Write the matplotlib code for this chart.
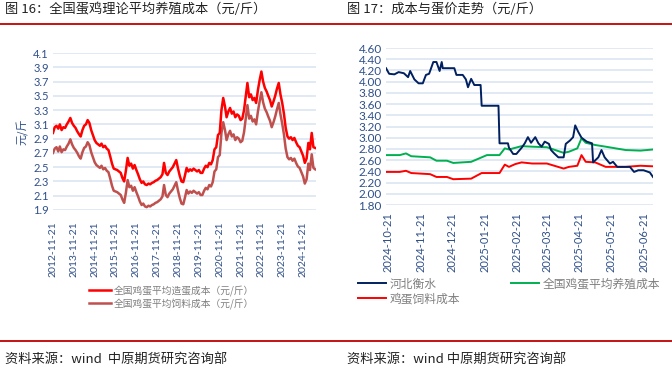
import numpy as np
import pandas as pd
import matplotlib
matplotlib.use("Agg")
import matplotlib.pyplot as plt
from matplotlib.lines import Line2D

plt.rcParams["font.family"] = ["Noto Sans CJK SC", "DejaVu Sans"]

# ---- data: fig 16, monthly readings 2012-11 .. 2025-06 ----
egg_cost = [2.98, 3.06,
            3.08, 3.04, 3.10, 3.02, 3.06, 3.05, 3.10, 3.14, 3.19, 3.12, 3.08, 3.05,
            3.00, 2.96, 2.93, 3.02, 3.08, 3.10, 3.16, 3.12, 3.02, 2.95, 2.88, 2.84,
            2.82, 2.80, 2.83, 2.78, 2.80, 2.76, 2.74, 2.65, 2.55, 2.48, 2.47, 2.46,
            2.44, 2.42, 2.35, 2.30, 2.45, 2.63, 2.52, 2.55, 2.48, 2.53, 2.46, 2.40,
            2.33, 2.28, 2.30, 2.26, 2.25, 2.27, 2.26, 2.28, 2.29, 2.31, 2.32, 2.34,
            2.36, 2.40, 2.56, 2.42, 2.39, 2.44, 2.47, 2.50, 2.55, 2.60, 2.48, 2.38,
            2.30, 2.29, 2.38, 2.49, 2.44, 2.47, 2.45, 2.48, 2.46, 2.44, 2.46, 2.42,
            2.42, 2.48, 2.52, 2.50, 2.56, 2.54, 2.60, 2.75, 2.78, 2.95, 2.98, 3.30,
            3.47, 3.35, 3.20, 3.28, 3.33, 3.25, 3.28, 3.20, 3.24, 3.22, 3.16, 3.18,
            3.30, 3.50, 3.68, 3.48, 3.52, 3.44, 3.47, 3.40, 3.58, 3.72, 3.84, 3.70,
            3.61, 3.56, 3.50, 3.44, 3.35, 3.42, 3.50, 3.60, 3.68, 3.52, 3.40, 3.25,
            3.05, 2.93, 2.90, 2.92, 2.88, 2.91, 2.85, 2.80, 2.78, 2.72, 2.66, 2.56,
            2.62, 2.84, 2.75, 2.98, 2.78, 2.77]
feed_cost = [2.70, 2.76,
             2.78, 2.72, 2.79, 2.71, 2.75, 2.74, 2.79, 2.83, 2.89, 2.82, 2.77, 2.74,
             2.70, 2.65, 2.62, 2.71, 2.77, 2.79, 2.85, 2.81, 2.71, 2.64, 2.57, 2.53,
             2.51, 2.49, 2.52, 2.47, 2.49, 2.45, 2.43, 2.34, 2.24, 2.17, 2.16, 2.15,
             2.13, 2.11, 2.05, 2.00, 2.14, 2.32, 2.22, 2.24, 2.17, 2.22, 2.15, 2.09,
             2.02, 1.97, 1.99, 1.95, 1.94, 1.96, 1.95, 1.97, 1.98, 2.00, 2.01, 2.03,
             2.05, 2.09, 2.25, 2.11, 2.08, 2.13, 2.16, 2.19, 2.24, 2.29, 2.17, 2.07,
             1.99, 1.98, 2.07, 2.18, 2.13, 2.16, 2.14, 2.17, 2.15, 2.13, 2.15, 2.11,
             2.11, 2.17, 2.21, 2.19, 2.25, 2.23, 2.29, 2.44, 2.47, 2.64, 2.67, 2.98,
             3.13, 3.02, 2.88, 2.96, 3.01, 2.93, 2.96, 2.88, 2.92, 2.90, 2.85, 2.87,
             2.99, 3.19, 3.37, 3.18, 3.22, 3.14, 3.17, 3.10, 3.28, 3.42, 3.55, 3.41,
             3.32, 3.27, 3.21, 3.15, 3.06, 3.13, 3.21, 3.31, 3.40, 3.24, 3.11, 2.96,
             2.76, 2.64, 2.61, 2.63, 2.59, 2.62, 2.56, 2.51, 2.49, 2.43, 2.37, 2.27,
             2.33, 2.55, 2.46, 2.68, 2.49, 2.47]
left_dates = pd.date_range("2012-11-01", periods=len(egg_cost), freq="MS") + pd.Timedelta(days=20)
left_ticks = [f"{y}-11-21" for y in range(2012, 2025)]

# ---- data: fig 17 ----
hb_dates = ["2024-10-19", "2024-10-22", "2024-10-27", "2024-10-31", "2024-11-05", "2024-11-09",
            "2024-11-11", "2024-11-15", "2024-11-19", "2024-11-23", "2024-11-26", "2024-11-29",
            "2024-12-03", "2024-12-06", "2024-12-09", "2024-12-11", "2024-12-12", "2024-12-23",
            "2024-12-25", "2024-12-31", "2025-01-03", "2025-01-05", "2025-01-08", "2025-01-11",
            "2025-01-17", "2025-01-18", "2025-02-03", "2025-02-04", "2025-02-12", "2025-02-13",
            "2025-02-17", "2025-02-20", "2025-02-25", "2025-02-28", "2025-03-03", "2025-03-06",
            "2025-03-10", "2025-03-13", "2025-03-16", "2025-03-19", "2025-03-23", "2025-03-25",
            "2025-03-28", "2025-04-01", "2025-04-06", "2025-04-08", "2025-04-12", "2025-04-15",
            "2025-04-17", "2025-04-20", "2025-04-23", "2025-04-28", "2025-05-03", "2025-05-04",
            "2025-05-09", "2025-05-12", "2025-05-15", "2025-05-20", "2025-05-23", "2025-05-27",
            "2025-06-08", "2025-06-12", "2025-06-16", "2025-06-21", "2025-06-27", "2025-06-30"]
hb_price = [4.24, 4.14, 4.13, 4.17, 4.15, 4.08,
            4.19, 4.04, 3.97, 3.97, 4.12, 4.14,
            4.35, 4.35, 4.19, 4.35, 4.24, 4.24,
            4.12, 4.12, 4.04, 3.90, 4.05, 3.94,
            3.94, 3.57, 3.57, 2.90, 2.90, 2.82,
            2.71, 2.71, 2.82, 2.90, 3.01, 2.91,
            3.01, 2.90, 2.84, 2.93, 2.89, 2.78,
            2.72, 2.65, 2.65, 2.89, 2.95, 3.01,
            3.22, 3.10, 3.00, 2.93, 2.90, 2.56,
            2.65, 2.78, 2.65, 2.54, 2.57, 2.48,
            2.48, 2.39, 2.42, 2.42, 2.38, 2.30]
cost_dates = ["2024-10-19", "2024-11-01", "2024-11-07", "2024-11-12", "2024-11-30", "2024-12-06",
              "2024-12-16", "2024-12-22", "2025-01-08", "2025-01-13", "2025-01-18", "2025-01-23",
              "2025-02-04", "2025-02-09", "2025-02-13", "2025-02-19", "2025-02-25", "2025-03-07",
              "2025-03-21", "2025-04-06", "2025-04-11", "2025-04-19", "2025-04-23", "2025-04-27",
              "2025-05-06", "2025-05-16", "2025-06-04", "2025-06-18", "2025-06-30"]
breed_cost = [2.69, 2.69, 2.72, 2.67, 2.65, 2.59,
              2.59, 2.55, 2.57, 2.61, 2.65, 2.69,
              2.69, 2.81, 2.79, 2.82, 2.85, 2.84,
              2.83, 2.73, 2.75, 2.81, 2.99, 2.91,
              2.87, 2.84, 2.78, 2.77, 2.79]
feed_cost2 = [2.39, 2.39, 2.41, 2.37, 2.35, 2.30,
              2.30, 2.26, 2.27, 2.32, 2.37, 2.37,
              2.37, 2.52, 2.48, 2.53, 2.56, 2.54,
              2.54, 2.45, 2.48, 2.50, 2.69, 2.57,
              2.56, 2.48, 2.48, 2.50, 2.49]
right_ticks = ["2024-10-21", "2024-11-21", "2024-12-21", "2025-01-21", "2025-02-21",
               "2025-03-21", "2025-04-21", "2025-05-21", "2025-06-21"]

TICK = "#2F4F8A"
GRID = "#DCE6F2"
NUMF = ["Lato", "DejaVu Sans"]

fig = plt.figure(figsize=(6.72, 3.70), dpi=100)

# header / footer rules and texts
for yy in (1 - 24 / 370, 1 - 341 / 370):
    fig.add_artist(Line2D([0, 1], [yy, yy], color="#C00000", lw=1.3, transform=fig.transFigure))
fig.text(5 / 672, 1 - 9 / 370, "图 16：全国蛋鸡理论平均养殖成本（元/斤）", fontsize=9.5, va="center", color="#222")
fig.text(347 / 672, 1 - 9 / 370, "图 17：成本与蛋价走势（元/斤）", fontsize=9.5, va="center", color="#222")
fig.text(5 / 672, 1 - 359 / 370, "资料来源：wind  中原期货研究咨询部", fontsize=9.5, va="center", color="#222")
fig.text(347 / 672, 1 - 359 / 370, "资料来源：wind 中原期货研究咨询部", fontsize=9.5, va="center", color="#222")


def style(ax, yticks, fmt, fs):
    for s in ax.spines.values():
        s.set_visible(False)
    ax.set_yticks(yticks)
    ax.set_yticklabels([fmt % v for v in yticks], fontsize=fs, color=TICK, family=NUMF)
    ax.grid(axis="y", color=GRID, lw=1.2)
    ax.set_axisbelow(True)
    ax.tick_params(axis="both", length=0, pad=3)


# ---- left chart ----
ax1 = fig.add_axes([53 / 672, 1 - 210 / 370, 263 / 672, 157 / 370])
ax1.plot(left_dates, feed_cost, color="#C0504D", lw=1.8, label="全国鸡蛋平均饲料成本（元/斤）")
ax1.plot(left_dates, egg_cost, color="#FF0000", lw=1.8, label="全国鸡蛋平均造蛋成本（元/斤）")
style(ax1, np.round(np.arange(1.9, 4.11, 0.2), 1), "%.1f", 8)
ax1.set_ylim(1.9, 4.1)
ax1.set_xlim(pd.Timestamp("2012-11-21"), pd.Timestamp("2025-07-05"))
ax1.set_xticks(pd.to_datetime(left_ticks))
ax1.set_xticklabels(left_ticks, rotation=90, fontsize=7.5, color=TICK, family=NUMF)
ax1.tick_params(axis="x", pad=8)
ax1.set_ylabel("元/斤", fontsize=8, color=TICK, labelpad=3)
h, l = ax1.get_legend_handles_labels()
ax1.legend(h[::-1], l[::-1], loc="upper left", bbox_to_anchor=(80 / 672, 1 - 276 / 370),
           bbox_transform=fig.transFigure, frameon=False, fontsize=7, handlelength=2.3,
           handletextpad=0.3, labelspacing=0.25, labelcolor="#7F7F7F")

# ---- right chart ----
ax2 = fig.add_axes([386 / 672, 1 - 205 / 370, 267 / 672, 157 / 370])
l2, = ax2.plot(pd.to_datetime(cost_dates), breed_cost, color="#00B050", lw=1.4, label="全国鸡蛋平均养殖成本")
l3, = ax2.plot(pd.to_datetime(cost_dates), feed_cost2, color="#FF0000", lw=1.4, label="鸡蛋饲料成本")
l1, = ax2.plot(pd.to_datetime(hb_dates), hb_price, color="#002060", lw=1.4, label="河北衡水")
style(ax2, np.round(np.arange(1.8, 4.61, 0.2), 2), "%.2f", 8.5)
ax2.set_ylim(1.8, 4.6)
ax2.set_xlim(pd.Timestamp("2024-10-19"), pd.Timestamp("2025-06-30"))
ax2.set_xticks(pd.to_datetime(right_ticks))
ax2.set_xticklabels(right_ticks, rotation=90, fontsize=8, color=TICK, family=NUMF)
ax2.tick_params(axis="x", pad=5)
ax2.legend([l1, l3, l2], ["河北衡水", "鸡蛋饲料成本", "全国鸡蛋平均养殖成本"], ncol=2,
           loc="upper left", bbox_to_anchor=(347 / 672, 1 - 267 / 370),
           bbox_transform=fig.transFigure, frameon=False, fontsize=8.5, handlelength=2.4,
           handletextpad=0.3, labelspacing=0.15, columnspacing=4.3, labelcolor="#7F7F7F")

fig.savefig("out.png", dpi=100)
